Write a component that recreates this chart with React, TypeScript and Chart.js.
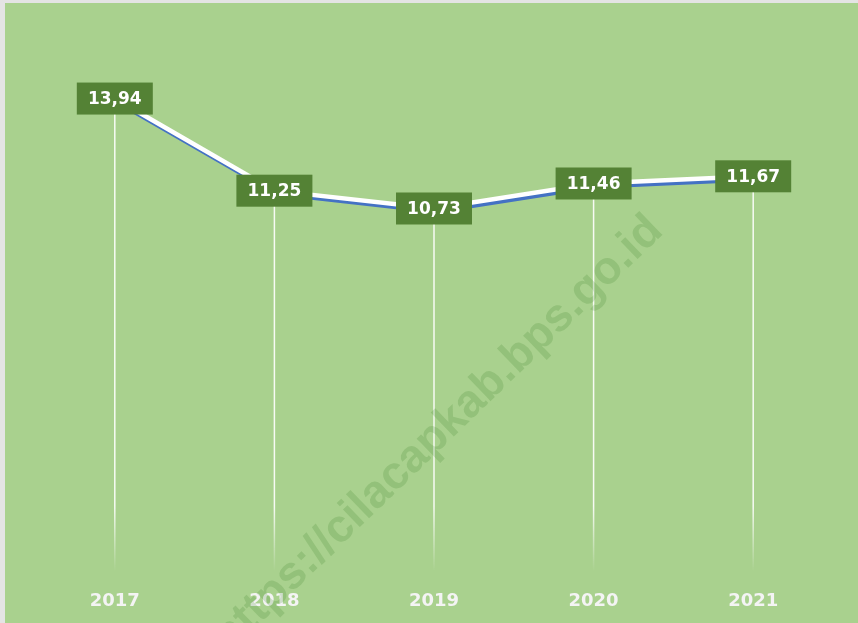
import React, { useEffect, useRef } from "react";
import { Chart, registerables } from "chart.js";

Chart.register(...registerables);

const years = ["2017", "2018", "2019", "2020", "2021"];
const values = [13.94, 11.25, 10.73, 11.46, 11.67];
const valueLabels = ["13,94", "11,25", "10,73", "11,46", "11,67"];
const watermarkText = "https://cilacapkab.bps.go.id";

// dataset 0 = white main line (drawn last, on top); dataset 1 = blue shadow line
const decor = {
  id: "decor",
  beforeDatasetsDraw(chart: any) {
    const ctx = chart.ctx;
    const meta = chart.getDatasetMeta(0);
    const bottom = chart.chartArea.bottom;
    const g = ctx.createLinearGradient(0, bottom - 70, 0, bottom - 5);
    g.addColorStop(0, "rgba(255,255,255,0.9)");
    g.addColorStop(1, "rgba(255,255,255,0)");
    ctx.save();
    ctx.strokeStyle = g;
    ctx.lineWidth = 1.5;
    meta.data.forEach((pt: any) => {
      ctx.beginPath();
      ctx.moveTo(pt.x, pt.y);
      ctx.lineTo(pt.x, bottom);
      ctx.stroke();
    });
    ctx.restore();
  },
  beforeDatasetDraw(chart: any, args: any) {
    if (args.index === 1) {
      chart.ctx.save();
      chart.ctx.translate(2, 2.5);
    }
  },
  afterDatasetDraw(chart: any, args: any) {
    if (args.index === 1) chart.ctx.restore();
  },
  afterDatasetsDraw(chart: any) {
    const ctx = chart.ctx;
    const meta = chart.getDatasetMeta(0);
    ctx.save();
    ctx.font = "bold 17px 'DejaVu Sans'";
    ctx.textAlign = "center";
    ctx.textBaseline = "middle";
    meta.data.forEach((pt: any, i: number) => {
      const w = 76, h = 32;
      ctx.fillStyle = "#548235";
      ctx.fillRect(pt.x - w / 2, pt.y - h / 2, w, h);
      ctx.fillStyle = "#ffffff";
      ctx.fillText(valueLabels[i], pt.x, pt.y + 1);
    });
    ctx.restore();
  },
  afterDraw(chart: any) {
    const ctx = chart.ctx;
    ctx.save();
    ctx.translate(433, 431);
    ctx.rotate((-44 * Math.PI) / 180);
    ctx.font = "bold 46px 'Liberation Sans'";
    ctx.textAlign = "center";
    ctx.textBaseline = "middle";
    ctx.fillStyle = "rgba(60,130,40,0.2)";
    ctx.fillText(watermarkText, 0, 0);
    ctx.restore();
  },
};

export default function App() {
  const ref = useRef<HTMLCanvasElement>(null);
  useEffect(() => {
    document.body.style.margin = "0";
    const chart = new Chart(ref.current as HTMLCanvasElement, {
      type: "line",
      data: {
        labels: years,
        datasets: [
          {
            data: values,
            borderColor: "#ffffff",
            borderWidth: 4.5,
            pointRadius: 0,
            tension: 0,
          },
          {
            data: values,
            borderColor: "#4472C4",
            borderWidth: 5.5,
            pointRadius: 0,
            tension: 0,
          },
        ],
      },
      options: {
        responsive: false,
        animation: false,
        layout: { padding: { left: 30, right: 25, top: 25, bottom: 7 } },
        plugins: { legend: { display: false }, tooltip: { enabled: false } },
        scales: {
          x: {
            offset: true,
            grid: { display: false, drawTicks: false },
            border: { display: false },
            ticks: {
              color: "#f4f4f4",
              font: { family: "'DejaVu Sans'", weight: "bold", size: 18 },
              padding: 15,
            },
            afterFit: (scale: any) => {
              scale.height = 40;
            },
          },
          y: { display: false, min: 0, max: 16 },
        },
      },
      plugins: [decor],
    });
    return () => chart.destroy();
  }, []);
  return (
    <div style={{ width: 858, height: 623, background: "#e4e4e4", paddingLeft: 5, paddingTop: 3, boxSizing: "border-box" }}>
      <canvas ref={ref} width={853} height={620} style={{ display: "block", background: "#a9d18e" }} />
    </div>
  );
}
